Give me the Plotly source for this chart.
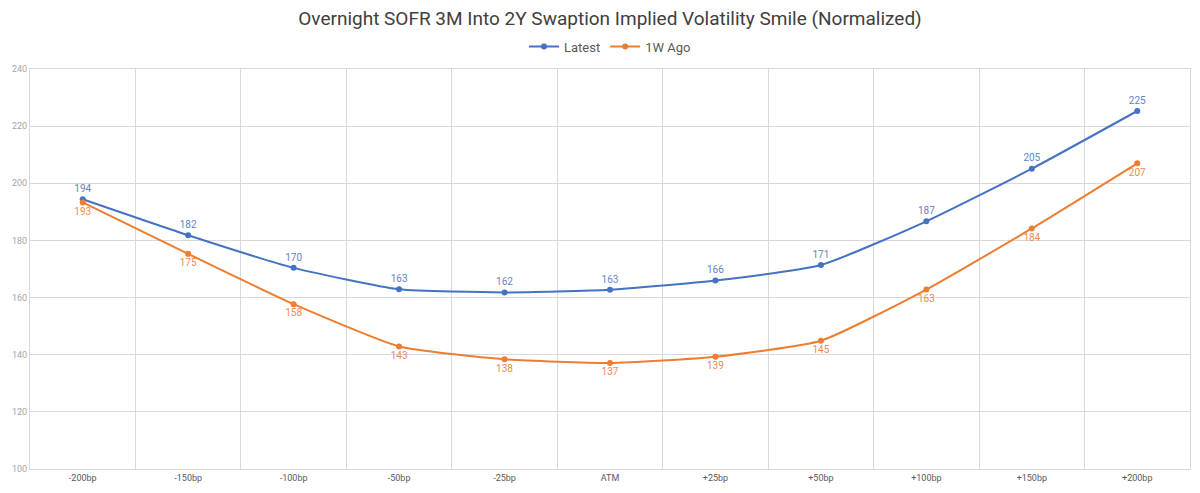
import plotly.graph_objects as go

categories = ["-200bp", "-150bp", "-100bp", "-50bp", "-25bp", "ATM",
              "+25bp", "+50bp", "+100bp", "+150bp", "+200bp"]
latest = [194.4, 181.8, 170.4, 162.9, 161.8, 162.7, 166.0, 171.4, 186.7, 205.1, 225.3]
week_ago = [193.3, 175.3, 157.7, 142.9, 138.4, 137.1, 139.3, 144.9, 162.8, 184.2, 207.0]
latest_labels = ["194", "182", "170", "163", "162", "163", "166", "171", "187", "205", "225"]
week_ago_labels = ["193", "175", "158", "143", "138", "137", "139", "145", "163", "184", "207"]
y_ticks = [100, 120, 140, 160, 180, 200, 220, 240]

FONT = "Roboto, sans-serif"
BLUE = "#4472C4"
ORANGE = "#ED7D31"

fig = go.Figure()
fig.add_trace(go.Scatter(
    x=categories, y=latest, name="Latest", mode="lines+markers+text",
    line=dict(color=BLUE, width=2, shape="spline", smoothing=0.5),
    marker=dict(size=6, color=BLUE),
    text=latest_labels, textposition="top center",
    textfont=dict(color="#6584C9", size=10, family=FONT),
))
fig.add_trace(go.Scatter(
    x=categories, y=week_ago, name="1W Ago", mode="lines+markers+text",
    line=dict(color=ORANGE, width=2, shape="spline", smoothing=0.5),
    marker=dict(size=6, color=ORANGE),
    text=week_ago_labels, textposition="bottom center",
    textfont=dict(color="#EF8A4F", size=10, family=FONT),
))

fig.update_layout(
    width=1200, height=493,
    paper_bgcolor="white", plot_bgcolor="white",
    margin=dict(l=30, r=10, t=69, b=24),
    font=dict(family=FONT, color="#595959"),
    title=dict(text="Overnight SOFR 3M Into 2Y Swaption Implied Volatility Smile (Normalized)",
               xref="paper", x=0.5, xanchor="center", y=0.963, yanchor="middle",
               font=dict(size=19, color="#404040", family=FONT)),
    legend=dict(orientation="h", x=0.5, xanchor="center", y=1.056, yanchor="middle",
                font=dict(size=13, color="#595959", family=FONT),
                itemwidth=30, bgcolor="rgba(0,0,0,0)"),
    showlegend=True,
)
fig.update_xaxes(
    type="category", tickson="boundaries", showgrid=True, gridcolor="#D9D9D9",
    gridwidth=1, ticks="", showline=True, linecolor="#D9D9D9", mirror=True,
    range=[-0.5, 10.5], tickfont=dict(size=9, color="#595959", family=FONT),
    zeroline=False,
)
fig.update_yaxes(
    range=[100, 240], tickvals=y_ticks, showgrid=True, gridcolor="#D9D9D9",
    gridwidth=1, showline=True, linecolor="#D9D9D9", mirror=True, zeroline=False,
    tickfont=dict(size=9, color="#A6A6A6", family=FONT), ticks="",
)

fig.write_html("out.html")
